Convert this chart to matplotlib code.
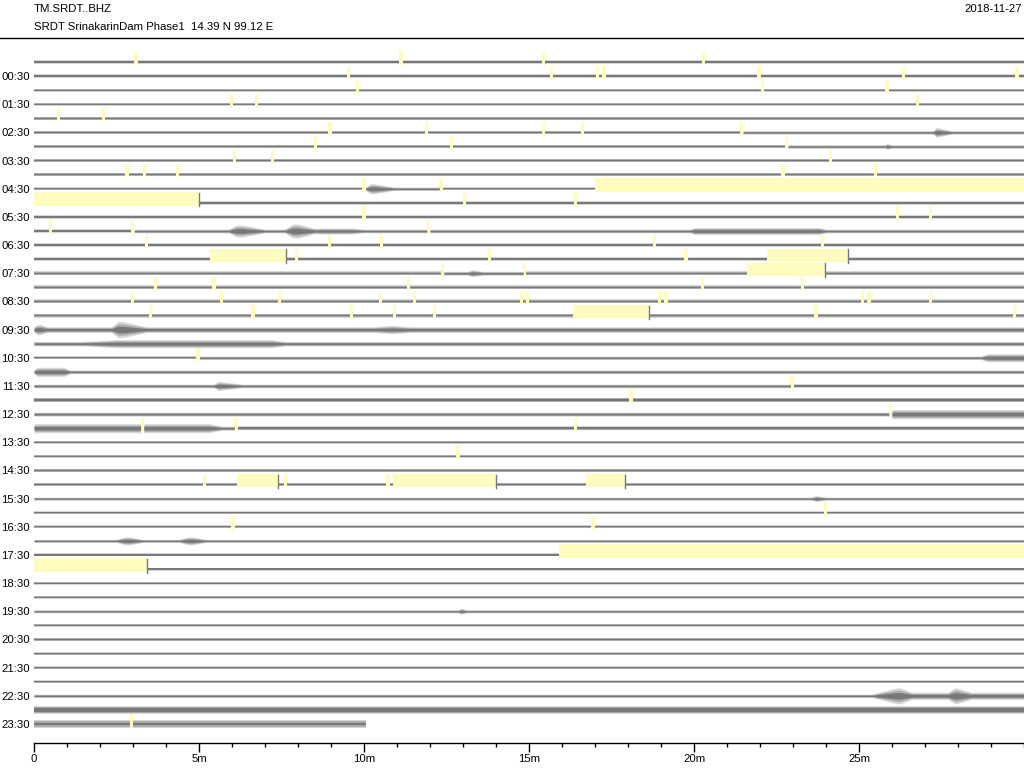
import numpy as np
import matplotlib.pyplot as plt
from matplotlib.lines import Line2D
from matplotlib.ticker import MultipleLocator

plt.rcParams['font.family'] = ['Liberation Sans', 'DejaVu Sans']

station = "TM.SRDT..BHZ"
subtitle = "SRDT SrinakarinDam Phase1  14.39 N 99.12 E"
day = "2018-11-27"

n_rows = 48
label_rows = list(range(1, 48, 2))
row_labels = [f"{h:02d}:30" for h in range(24)]
x_ticks = [0, 5, 10, 15, 20, 25]
x_tick_labels = ["0", "5m", "10m", "15m", "20m", "25m"]

# minutes of data in each 30 min line
row_end = [30.0] * 47 + [10.06]

# background noise half-amplitude per line (pixels)
base_amp = [1.6, 1.6, 1.6, 1.6, 1.7, 1.7, 1.7, 1.7, 1.7, 1.7,
            1.7, 1.7, 1.8, 1.8, 1.8, 1.9, 2.0, 2.0, 2.0, 2.8,
            2.2, 1.7, 1.8, 1.8, 2.2, 2.0, 2.0, 1.5, 1.5, 1.5,
            1.5, 1.5, 1.5, 1.5, 1.5, 1.5, 1.5, 1.5, 1.5, 1.5,
            1.5, 1.5, 1.5, 1.5, 1.6, 1.7, 4.2, 3.6]

# events: line, start, peak from, peak to, end (minutes), half-amplitude (px)
events = [
    (5, 27.25, 27.35, 27.35, 27.8, 5.0),
    (6, 25.8, 25.85, 25.85, 26.0, 3.0),
    (9, 10.0, 10.2, 10.3, 10.9, 5.0),
    (12, 5.9, 6.15, 6.3, 7.0, 6.0),
    (12, 7.6, 7.85, 8.0, 8.8, 7.0),
    (12, 8.5, 8.8, 9.6, 10.0, 3.0),
    (12, 19.9, 20.0, 23.8, 24.0, 3.5),
    (15, 13.15, 13.27, 13.27, 13.6, 3.5),
    (19, 0.0, 0.1, 0.2, 0.4, 5.0),
    (19, 2.35, 2.55, 2.7, 3.4, 8.0),
    (19, 10.3, 10.8, 10.9, 11.4, 4.0),
    (20, 1.5, 2.5, 7.2, 7.6, 4.0),
    (21, 28.7, 28.9, 29.99, 30.0, 4.0),
    (22, 0.0, 0.1, 0.9, 1.1, 4.5),
    (23, 5.45, 5.6, 5.6, 6.3, 4.5),
    (25, 25.8, 26.0, 29.99, 30.0, 4.5),
    (26, 0.0, 0.01, 5.3, 5.7, 4.5),
    (31, 23.55, 23.7, 23.7, 24.0, 3.0),
    (34, 2.5, 2.76, 2.9, 3.3, 4.0),
    (34, 4.4, 4.68, 4.8, 5.2, 4.0),
    (39, 12.85, 12.95, 12.95, 13.1, 3.0),
    (45, 25.4, 26.15, 26.25, 26.6, 8.0),
    (45, 25.4, 26.6, 29.99, 30.0, 3.5),
    (45, 27.7, 27.9, 27.95, 28.4, 8.0),
]

# long gaps: line, start, end (minutes)
big_gaps = [
    (9, 17.0, 30.0), (10, 0.0, 5.0),
    (14, 5.32, 7.63), (14, 22.2, 24.66),
    (15, 21.6, 23.98), (18, 16.34, 18.64),
    (30, 6.14, 7.38), (30, 10.88, 14.0), (30, 16.74, 17.92),
    (35, 15.92, 30.0), (36, 0.0, 3.43),
]

# short gaps: line -> minutes
short_gaps = {
    0: [3.09, 11.12, 15.44, 20.28],
    1: [9.52, 15.69, 17.08, 17.27, 21.97, 26.35, 29.79],
    2: [9.81, 22.07, 25.85],
    3: [5.99, 6.74, 26.78],
    4: [0.74, 2.11],
    5: [8.97, 11.89, 15.44, 16.63, 21.44],
    6: [8.53, 12.66, 22.8],
    7: [6.07, 7.22, 24.13],
    8: [2.82, 3.34, 4.34, 22.7, 25.49],
    9: [10.0, 12.33],
    10: [13.04, 16.4],
    11: [10.0, 26.16, 27.16],
    12: [0.51, 2.99, 11.95],
    13: [3.4, 8.95, 10.54, 18.8, 23.9],
    14: [7.95, 13.8, 19.76],
    15: [12.37, 14.87],
    16: [3.68, 5.45, 11.35, 20.25, 23.28],
    17: [2.99, 5.68, 7.43, 10.5, 11.52, 14.77, 14.96, 18.96, 19.15, 25.1, 25.3, 27.16],
    18: [3.53, 6.64, 9.62, 10.93, 12.14, 23.7, 29.72],
    21: [4.97],
    23: [22.97],
    24: [18.09],
    25: [25.95],
    26: [3.28, 6.12, 16.4],
    28: [12.85],
    30: [5.16, 7.62, 10.73],
    32: [23.99],
    33: [6.03, 16.94],
    47: [2.95],
}

trace_col = '#787878'
gap_col = '#fffcbf'
px_per_row = 14.085
short_w = 0.1
gap_top, gap_bot = -0.75, 0.2
# layered fills give the look of dense spiky noise
layers = [(1.0, 0.3), (0.7, 0.45), (0.4, 1.0)]

fig = plt.figure(figsize=(10.24, 7.68), dpi=100)
ax = fig.add_axes([34 / 1024, 25 / 768, 990 / 1024, 705 / 768])

for r in range(n_rows):
    gaps = [(s, e) for (rr, s, e) in big_gaps if rr == r]
    gaps += [(t - short_w / 2, t + short_w / 2) for t in short_gaps.get(r, [])]
    gaps.sort()
    for s, e in gaps:
        ax.fill_between([s, e], r + gap_top, r + gap_bot, color=gap_col, lw=0, zorder=1)

    segs = []
    cur = 0.0
    for s, e in gaps:
        if s > cur:
            segs.append((cur, min(s, row_end[r])))
        cur = max(cur, e)
    if cur < row_end[r]:
        segs.append((cur, row_end[r]))

    evs = [ev for ev in events if ev[0] == r]
    for a, b in segs:
        if b <= a:
            continue
        ts = [a, b]
        for ev in evs:
            ts += [t for t in ev[1:5] if a < t < b]
        ts = np.array(sorted(set(ts)))
        env = np.full(len(ts), base_amp[r])
        for ev in evs:
            env = np.maximum(env, np.interp(ts, ev[1:5], [0, ev[5], ev[5], 0], left=0, right=0))
        env = env / px_per_row
        for k, (frac, alpha) in enumerate(layers):
            h = np.maximum(frac * env, 0.5 / px_per_row)
            ax.fill_between(ts, r - h, r + h, color=trace_col, alpha=alpha, lw=0, zorder=2 + k)

    for rr, s, e in big_gaps:
        if rr == r and e < row_end[r]:
            ax.plot([e, e], [r - 0.7, r + 0.25], color=trace_col, lw=1, zorder=5)

ax.set_xlim(0, 30)
ax.set_ylim(48.35, -1.704)
for sp in ['left', 'right', 'top']:
    ax.spines[sp].set_visible(False)
ax.spines['bottom'].set_linewidth(1)

ax.set_xticks(x_ticks, x_tick_labels)
ax.xaxis.set_minor_locator(MultipleLocator(1))
ax.tick_params(axis='x', which='major', length=6.5, width=1, pad=1.5, labelsize=8.2)
ax.tick_params(axis='x', which='minor', length=3, width=1)
ax.set_yticks(label_rows, row_labels)
ax.tick_params(axis='y', length=0, pad=3, labelsize=8.2)

fig.add_artist(Line2D([0, 1], [1 - 38 / 768, 1 - 38 / 768], transform=fig.transFigure,
                      color='black', lw=1))
fig.text(34 / 1024, 1 - 9 / 768, station, ha='left', va='center', fontsize=8.2)
fig.text(34 / 1024, 1 - 27 / 768, subtitle, ha='left', va='center', fontsize=8.2)
fig.text(1022 / 1024, 1 - 9 / 768, day, ha='right', va='center', fontsize=8.2)

fig.savefig('out.png', dpi=100)
